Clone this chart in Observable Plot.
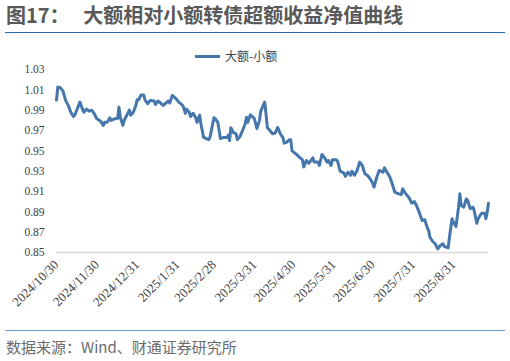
<!DOCTYPE html>
<html><head><meta charset="utf-8">
<script src="https://cdn.jsdelivr.net/npm/d3@7"></script>
<script src="https://cdn.jsdelivr.net/npm/@observablehq/plot@0.6"></script>
<style>
body{margin:0;background:#fff;}
#wrap{position:relative;width:510px;height:361px;overflow:hidden;background:#fff;font-family:"Noto Sans CJK SC","Noto Sans",sans-serif;}
#title{position:absolute;left:6px;top:3px;font-size:20px;line-height:24px;font-weight:bold;color:#595959;white-space:pre;}
#rule1{position:absolute;left:5px;top:31.5px;width:500px;height:1.5px;background:#2c63ad;}
#rule2{position:absolute;left:5px;top:329.5px;width:500px;height:1.5px;background:#6e9bd0;}
#caption{position:absolute;left:6px;top:337px;font-size:15px;line-height:20px;color:#6b6b6b;white-space:pre;}
#legend{position:absolute;left:195px;top:47px;font-size:12px;line-height:18px;color:#404040;display:flex;align-items:center;}
#legend .sw{display:inline-block;width:25px;height:3px;background:#4577ad;margin-right:5px;}
#chart{position:absolute;left:0;top:0;}
#chart svg g[aria-label="x-axis tick label"]{font-size:13px;}
</style></head>
<body><div id="wrap">
<div id="title"></div><div id="rule1"></div>
<div id="legend"><span class="sw"></span><span id="legtext"></span></div>
<div id="chart"></div>
<div id="rule2"></div><div id="caption"></div>
</div>
<script>
const titleText = "图17：   大额相对小额转债超额收益净值曲线";
const captionText = "数据来源：Wind、财通证券研究所";
const seriesName = "大额-小额";
const xTickLabels = ["2024-10-30","2024-11-30","2024-12-31","2025-01-31","2025-02-28","2025-03-31","2025-04-30","2025-05-31","2025-06-30","2025-07-31","2025-08-31"];
const yTicks = [0.85,0.87,0.89,0.91,0.93,0.95,0.97,0.99,1.01,1.03];
const dates = [
"2024-10-30","2024-10-31","2024-11-02","2024-11-04","2024-11-06","2024-11-08","2024-11-10","2024-11-12","2024-11-13","2024-11-15",
"2024-11-17","2024-11-19","2024-11-20","2024-11-22","2024-11-24","2024-11-26","2024-11-28","2024-11-30","2024-12-03","2024-12-05",
"2024-12-06","2024-12-08","2024-12-10","2024-12-11","2024-12-14","2024-12-16","2024-12-17","2024-12-18","2024-12-20","2024-12-21",
"2024-12-23","2024-12-25","2024-12-26","2024-12-28","2024-12-30","2024-12-31","2025-01-01","2025-01-03","2025-01-05","2025-01-06",
"2025-01-08","2025-01-10","2025-01-13","2025-01-14","2025-01-16","2025-01-18","2025-01-20","2025-01-22","2025-01-24","2025-01-25",
"2025-01-27","2025-01-30","2025-02-01","2025-02-04","2025-02-05","2025-02-06","2025-02-07","2025-02-09","2025-02-10","2025-02-12",
"2025-02-14","2025-02-15","2025-02-17","2025-02-18","2025-02-20","2025-02-22","2025-02-24","2025-02-25","2025-02-28","2025-03-01",
"2025-03-03","2025-03-05","2025-03-07","2025-03-10","2025-03-11","2025-03-12","2025-03-13","2025-03-15","2025-03-17","2025-03-18",
"2025-03-20","2025-03-22","2025-03-24","2025-03-25","2025-03-26","2025-03-28","2025-03-31","2025-04-02","2025-04-04","2025-04-05",
"2025-04-08","2025-04-09","2025-04-10","2025-04-12","2025-04-14","2025-04-16","2025-04-18","2025-04-20","2025-04-22","2025-04-23",
"2025-04-25","2025-04-27","2025-04-28","2025-04-29","2025-05-02","2025-05-04","2025-05-07","2025-05-08","2025-05-10","2025-05-12",
"2025-05-15","2025-05-16","2025-05-19","2025-05-20","2025-05-22","2025-05-24","2025-05-26","2025-05-27","2025-05-29","2025-05-30",
"2025-06-02","2025-06-03","2025-06-05","2025-06-08","2025-06-09","2025-06-11","2025-06-13","2025-06-14","2025-06-16","2025-06-18",
"2025-06-20","2025-06-22","2025-06-24","2025-06-26","2025-06-28","2025-06-30","2025-07-01","2025-07-03","2025-07-05","2025-07-08",
"2025-07-09","2025-07-11","2025-07-13","2025-07-15","2025-07-17","2025-07-20","2025-07-22","2025-07-23","2025-07-25","2025-07-28",
"2025-07-30","2025-08-01","2025-08-03","2025-08-05","2025-08-07","2025-08-09","2025-08-11","2025-08-12","2025-08-13","2025-08-15",
"2025-08-17","2025-08-19","2025-08-21","2025-08-23","2025-08-24","2025-08-27","2025-08-28","2025-08-30","2025-08-31","2025-09-02",
"2025-09-04","2025-09-05","2025-09-06","2025-09-08","2025-09-10","2025-09-11","2025-09-13","2025-09-15","2025-09-16","2025-09-18",
"2025-09-19","2025-09-21","2025-09-22","2025-09-24","2025-09-25","2025-09-26","2025-09-27"];
const values = [
1.000,1.0127,1.012,1.0087,0.9996,0.9947,0.988,0.9838,0.985,0.9914,
0.9979,0.991,0.988,0.991,0.989,0.990,0.9865,0.9816,0.979,0.975,
0.978,0.978,0.9825,0.980,0.9816,0.982,0.993,0.983,0.975,0.980,
0.985,0.990,0.985,0.988,0.9947,1.0003,1.000,1.005,1.005,1.000,
0.9963,0.9996,0.999,0.9956,0.999,0.997,0.9947,0.997,0.999,0.997,
1.0045,1.001,0.998,0.9947,0.9914,0.987,0.991,0.988,0.9838,0.987,
0.9825,0.978,0.985,0.9766,0.9635,0.962,0.961,0.9635,0.9825,0.9816,
0.978,0.962,0.963,0.963,0.9655,0.960,0.9727,0.968,0.9668,0.961,
0.964,0.970,0.9766,0.983,0.978,0.9855,0.982,0.972,0.980,0.989,
0.998,0.9865,0.973,0.970,0.9668,0.9674,0.973,0.9668,0.963,0.9576,
0.9586,0.961,0.961,0.950,0.947,0.9445,0.9412,0.934,0.9405,0.9378,
0.9432,0.9389,0.9389,0.9356,0.9464,0.9432,0.9389,0.9405,0.9356,0.9412,
0.9412,0.9398,0.930,0.928,0.9248,0.929,0.9258,0.930,0.926,0.9307,
0.9389,0.9356,0.9274,0.9258,0.9225,0.9182,0.9143,0.9235,0.9307,0.929,
0.9333,0.929,0.9248,0.9176,0.9093,0.9077,0.9071,0.9127,0.9084,0.9038,
0.8985,0.9002,0.8953,0.8887,0.8815,0.8822,0.8743,0.8716,0.865,0.8611,
0.8586,0.8536,0.8569,0.8586,0.856,0.8546,0.865,0.8832,0.8798,0.8756,
0.8946,0.9077,0.8962,0.8946,0.9028,0.9012,0.893,0.8946,0.8913,0.8788,
0.8832,0.8874,0.8887,0.8887,0.8832,0.8897,0.8985];

document.getElementById("title").textContent = titleText;
document.getElementById("caption").textContent = captionText;
document.getElementById("legtext").textContent = seriesName;

const parse = d3.utcParse("%Y-%m-%d");
const data = dates.map((d, i) => ({date: parse(d), value: values[i]}));
const tickDates = xTickLabels.map(parse);

const chart = Plot.plot({
  width: 510,
  height: 361,
  marginTop: 69,
  marginBottom: 109,
  marginLeft: 56,
  marginRight: 22,
  style: {fontFamily: "'Liberation Serif', serif", fontSize: "11.5px", color: "#404040", background: "transparent"},
  x: {type: "utc", domain: [data[0].date, data[data.length - 1].date]},
  y: {domain: [0.85, 1.03]},
  marks: [
    Plot.ruleY([0.85], {stroke: "#d9d9d9", strokeWidth: 1.5}),
    Plot.axisY({ticks: yTicks, tickFormat: d3.format(".2f"), tickSize: 0, tickPadding: 12, label: null}),
    Plot.axisX({ticks: tickDates, tickFormat: d3.utcFormat("%Y/%-m/%-d"), tickRotate: -45, tickSize: 0, tickPadding: 10, fontSize: 13, label: null}),
    Plot.lineY(data, {x: "date", y: "value", stroke: "#4577ad", strokeWidth: 3, strokeLinejoin: "round"})
  ]
});
document.getElementById("chart").appendChild(chart);
</script>
</body></html>
